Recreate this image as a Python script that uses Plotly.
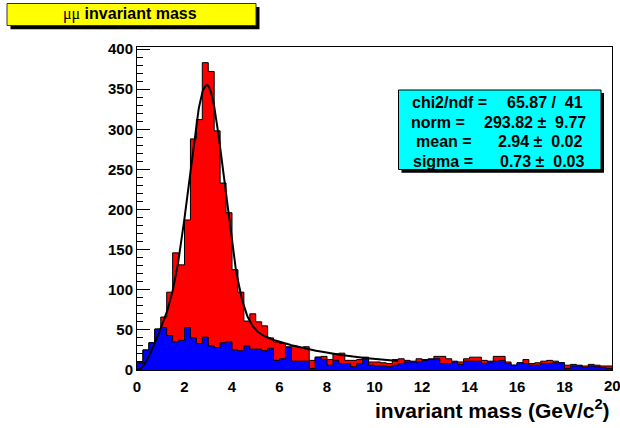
import numpy as np
import plotly.graph_objects as go

# 80 bins of 0.25 GeV/c^2 between 0 and 20
bin_width = 0.25
bin_edges = np.arange(81) * bin_width

# all dimuon candidates per bin
total_counts = [
    9, 25, 34, 51, 66, 97, 146, 131, 187, 288,
    312, 383, 372, 298, 233, 196, 125, 97, 61, 70,
    60, 55, 40, 35, 33, 29, 30, 28, 29, 12,
    16, 17, 13, 20, 21, 12, 12, 13, 16, 10,
    10, 9, 8, 13, 14, 12, 11, 14, 13, 14,
    17, 17, 14, 11, 10, 14, 16, 16, 12, 11,
    17, 17, 10, 6, 9, 13, 8, 9, 11, 12,
    11, 9, 6, 7, 6, 5, 7, 6, 5, 5,
]

# background candidates per bin
background_counts = [
    9, 25, 34, 51, 53, 43, 35, 37, 53, 40,
    33, 41, 30, 28, 34, 35, 25, 24, 30, 26,
    26, 24, 27, 12, 14, 28, 11, 11, 11, 2,
    16, 13, 6, 12, 8, 8, 4, 8, 14, 6,
    5, 5, 4, 6, 8, 10, 10, 10, 12, 13,
    14, 8, 8, 10, 7, 11, 11, 11, 8, 10,
    11, 12, 8, 6, 9, 8, 6, 6, 8, 8,
    9, 9, 2, 5, 5, 3, 5, 4, 3, 2,
]

# fit results
chi2, ndf = 65.87, 41
norm, norm_err = 293.82, 9.77
mean, mean_err = 2.94, 0.02
sigma, sigma_err = 0.73, 0.03
fit_range = (0.0, 11.0)

x_ticks = list(range(0, 21, 2))
y_ticks = list(range(0, 401, 50))


def fit_function(x):
    """Gaussian peak on a smooth continuum that switches on at low mass."""
    peak = norm * np.exp(-0.5 * ((x - mean) / sigma) ** 2)
    continuum = 62.0 * (1.0 - np.exp(-(x / 0.8) ** 2)) / (1.0 + ((x - 2.5) / 4.0) ** 2)
    return peak + continuum


def step_xy(counts):
    return bin_edges, list(counts) + [counts[-1]]


# plot frame in pixels: x 137..612, y 47..370
L, R, T, B = 137, 8, 47, 58
W, H = 620, 428
PW, PH = W - L - R, H - T - B


def px(x):
    return (x - L) / PW


def py(y):
    return (H - B - y) / PH


fig = go.Figure()

sx, sy = step_xy(total_counts)
fig.add_trace(go.Scatter(
    x=sx, y=sy, mode="lines", line=dict(shape="hv", color="black", width=1),
    fill="tozeroy", fillcolor="#ff0000", hoverinfo="skip",
))

bx, by = step_xy(background_counts)
fig.add_trace(go.Scatter(
    x=bx, y=by, mode="lines", line=dict(shape="hv", color="black", width=1),
    fill="tozeroy", fillcolor="#0000ff", hoverinfo="skip",
))

xf = np.linspace(fit_range[0], fit_range[1], 400)
fig.add_trace(go.Scatter(
    x=xf, y=fit_function(xf), mode="lines",
    line=dict(color="black", width=2), hoverinfo="skip",
))

font = "Liberation Sans, Arial, Helvetica, sans-serif"

shapes = [
    # title box with drop shadow
    dict(type="rect", xref="paper", yref="paper", x0=px(10.5), x1=px(259.5),
         y0=py(29.3), y1=py(7), fillcolor="black", line=dict(width=0)),
    dict(type="rect", xref="paper", yref="paper", x0=px(7), x1=px(256),
         y0=py(25.5), y1=py(3.5), fillcolor="#ffff00",
         line=dict(color="#333333", width=1)),
    # fit statistics box with drop shadow
    dict(type="rect", xref="paper", yref="paper", x0=px(401.5), x1=px(604),
         y0=py(172.8), y1=py(93), fillcolor="black", line=dict(width=0)),
    dict(type="rect", xref="paper", yref="paper", x0=px(398.5), x1=px(601),
         y0=py(169.5), y1=py(90), fillcolor="#00ffff",
         line=dict(color="black", width=1)),
]

annotations = [
    dict(text="<span style=\"font-family:'Liberation Serif', serif\">\u03bc\u03bc</span>"
              " <b>invariant mass</b>",
         xref="paper", yref="paper", x=px(130), y=py(14.5), xanchor="center",
         yanchor="middle", showarrow=False, font=dict(family=font, size=16, color="black")),
    dict(text="<b>invariant mass (GeV/c<sup>2</sup>)</b>",
         xref="paper", yref="paper", x=px(612), y=py(409), xanchor="right",
         yanchor="middle", showarrow=False, font=dict(family=font, size=21, color="black")),
    # last x tick label sits on the frame edge, partly past the canvas
    dict(text=f"<b>{x_ticks[-1]}</b>", xref="x", yref="paper", x=x_ticks[-1],
         y=py(386), xanchor="center", yanchor="middle", showarrow=False,
         font=dict(family=font, size=15, color="black")),
]

nb = "\u00a0"
stat_rows = [
    ("chi2/ndf =", f"{chi2:.2f} /{nb}{nb}{ndf}", 410, 585, 102.5),
    ("norm =", f"{norm:.2f} \u00b1{nb}{nb}{norm_err:.2f}", 409, 588, 122),
    ("mean =", f"{mean:.2f} \u00b1{nb}{nb}{mean_err:.2f}", 414, 585, 141.5),
    ("sigma =", f"{sigma:.2f} \u00b1{nb}{nb}{sigma_err:.2f}", 411, 587, 161),
]
for label, value, xl, xr, yc in stat_rows:
    annotations.append(dict(text=f"<b>{label}</b>", xref="paper", yref="paper",
                            x=px(xl), y=py(yc), xanchor="left", yanchor="middle",
                            showarrow=False, font=dict(family=font, size=16, color="black")))
    annotations.append(dict(text=f"<b>{value}</b>", xref="paper", yref="paper",
                            x=px(xr), y=py(yc), xanchor="right", yanchor="middle",
                            showarrow=False, font=dict(family=font, size=16, color="black")))

fig.update_layout(
    width=W, height=H, margin=dict(l=L, r=R, t=T, b=B),
    paper_bgcolor="white", plot_bgcolor="white", showlegend=False,
    shapes=shapes, annotations=annotations,
    xaxis=dict(range=[0, 20], tickvals=x_ticks[:-1], ticks="", showgrid=False,
               zeroline=False, showline=True, linecolor="black", linewidth=1,
               mirror=True, ticklabelstandoff=3,
               tickfont=dict(family=font, size=15, color="black", weight="bold")),
    yaxis=dict(range=[0, 402.5], tickvals=y_ticks, ticks="inside", ticklen=13,
               tickcolor="black", tickwidth=1, showgrid=False, zeroline=False,
               showline=True, linecolor="black", linewidth=1, mirror=True,
               minor=dict(ticks="inside", ticklen=6, dtick=10, tick0=0,
                          tickcolor="black", showgrid=False),
               tickfont=dict(family=font, size=15, color="black", weight="bold")),
)

fig.write_html("out.html")
